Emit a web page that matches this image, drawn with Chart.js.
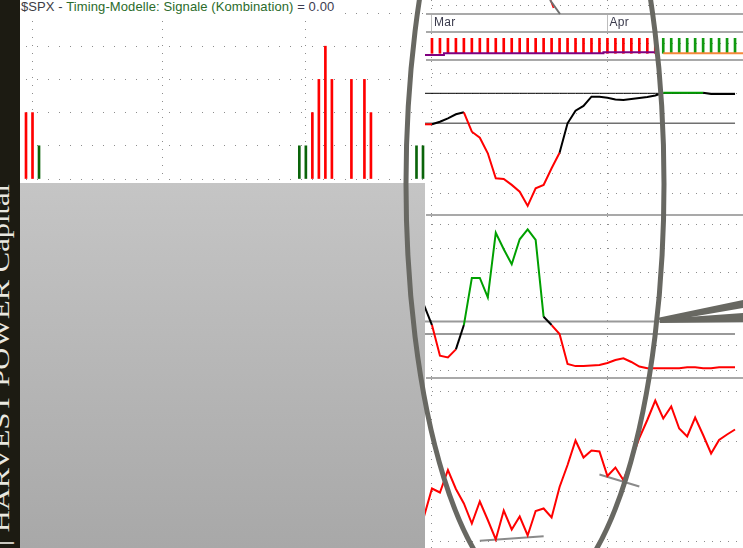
<!DOCTYPE html>
<html><head><meta charset="utf-8">
<script src="https://cdn.jsdelivr.net/npm/chart.js@4.4.1/dist/chart.umd.min.js"></script>
<style>
html,body{margin:0;padding:0;}
body{width:743px;height:548px;position:relative;overflow:hidden;background:#fff;font-family:"Liberation Sans",Arial,sans-serif;}
.abs{position:absolute;}
canvas{display:block;position:absolute;}
.sep{position:absolute;left:426px;width:317px;height:2px;background:#a9a9a9;z-index:1;}
.mlab{position:absolute;font-size:12px;line-height:14px;color:#3a3a4c;white-space:nowrap;z-index:1;letter-spacing:0.3px;}
#title{position:absolute;left:21px;top:-1px;font-size:13px;line-height:15px;letter-spacing:0.1px;background:#fff;padding-right:3px;white-space:nowrap;z-index:3;}
</style></head><body>

<svg class="abs" style="left:0;top:0;z-index:5" width="20" height="548">
  <rect width="20" height="548" fill="#1c1b12"/>
  <text transform="translate(9,546) rotate(-90)" font-family="Liberation Serif, DejaVu Serif, serif" font-size="24" fill="#e9e8e0" textLength="362" lengthAdjust="spacingAndGlyphs">| HARVEST POWER Capital</text>
</svg>

<!-- right side panels -->
<canvas id="cA" width="319" height="13" style="left:424px;top:0px"></canvas>
<div class="sep" style="top:13px"></div>
<canvas id="cDate" width="319" height="16" style="left:424px;top:15px"></canvas>
<div class="sep" style="top:31px"></div>
<canvas id="cTicks" width="319" height="26" style="left:424px;top:33px"></canvas>
<div class="sep" style="top:59px"></div>
<canvas id="cP4" width="319" height="153" style="left:424px;top:61px"></canvas>
<div class="sep" style="top:214px"></div>
<canvas id="cP5" width="319" height="161" style="left:424px;top:216px"></canvas>
<div class="sep" style="top:377px"></div>
<canvas id="cP6" width="319" height="169" style="left:424px;top:379px"></canvas>

<!-- left panel -->
<div class="abs" style="left:20px;top:0;width:405px;height:183px;background:#fff;z-index:2">
  <canvas id="cLeft" width="405" height="183" style="left:0;top:0"></canvas>
</div>
<div id="title"><span style="color:#3c3c44">$SPX - </span><span style="color:#2b6b2b">Timing-Modelle: Signale (Kombination)</span><span style="color:#3c3c50"> = 0.00</span></div>
<div class="abs" style="left:20px;top:183px;width:405px;height:365px;background:linear-gradient(#c5c5c5,#a8a8a8);z-index:2"></div>

<svg class="abs" style="left:0;top:0;z-index:10;pointer-events:none" width="743" height="548">
  <line x1="550.5" y1="0" x2="553.5" y2="8" stroke="#ff0000" stroke-width="1.5"/>
  <line x1="550" y1="0" x2="560" y2="14" stroke="#707070" stroke-width="2"/>
  <ellipse cx="535" cy="184" rx="129" ry="415" fill="none" stroke="#686862" stroke-width="5"/>
  <polygon points="657,318 743,300 743,308 662,322" fill="#686862"/>
  <polygon points="660,319 743,313 743,322 660,323" fill="#686862"/>
</svg>

<script>
// ---------- DATA ----------
const monthNames = ['Jan','Feb','Mar','Apr','May','Jun','Jul','Aug','Sep','Oct','Nov','Dec'];

// Left panel: combined timing signals
const leftDates = ['2009-10-30',
 '2009-11-02','2009-11-03','2009-11-04','2009-11-05','2009-11-06','2009-11-09','2009-11-10','2009-11-11','2009-11-12','2009-11-13',
 '2009-11-16','2009-11-17','2009-11-18','2009-11-19','2009-11-20','2009-11-23','2009-11-24','2009-11-25','2009-11-27','2009-11-30',
 '2009-12-01','2009-12-02','2009-12-03','2009-12-04','2009-12-07','2009-12-08','2009-12-09','2009-12-10','2009-12-11','2009-12-14',
 '2009-12-15','2009-12-16','2009-12-17','2009-12-18','2009-12-21','2009-12-22','2009-12-23','2009-12-24','2009-12-28','2009-12-29',
 '2009-12-30','2009-12-31',
 '2010-01-04','2010-01-05','2010-01-06','2010-01-07','2010-01-08','2010-01-11','2010-01-12','2010-01-13','2010-01-14','2010-01-15',
 '2010-01-19','2010-01-20','2010-01-21','2010-01-22','2010-01-25','2010-01-26','2010-01-27','2010-01-28','2010-01-29'];
const leftSell = [2,2,0,0,0,0,0,0,0,0, 0,0,0,0,0,0,0,0,0,0, 0,0,0,0,0,0,0,0,0,0, 0,0,0,0,0,0,0,0,0,0,
                  0,0,0,0,2,3,4,3,0,0, 3,0,3,2,0,0,0,0,0,0, 0,0];
const leftBuy  = [0,0,1,0,0,0,0,0,0,0, 0,0,0,0,0,0,0,0,0,0, 0,0,0,0,0,0,0,0,0,0, 0,0,0,0,0,0,0,0,0,0,
                  0,0,1,1,0,0,0,0,0,0, 0,0,0,0,0,0,0,0,0,0, 1,1];

// Right panels
const rightDates = ['2009-02-27',
 '2009-03-02','2009-03-03','2009-03-04','2009-03-05','2009-03-06','2009-03-09','2009-03-10','2009-03-11','2009-03-12','2009-03-13',
 '2009-03-16','2009-03-17','2009-03-18','2009-03-19','2009-03-20','2009-03-23','2009-03-24','2009-03-25','2009-03-26','2009-03-27',
 '2009-03-30','2009-03-31',
 '2009-04-01','2009-04-02','2009-04-03','2009-04-06','2009-04-07','2009-04-08','2009-04-09',
 '2009-04-13','2009-04-14','2009-04-15','2009-04-16','2009-04-17','2009-04-20','2009-04-21','2009-04-22','2009-04-23','2009-04-24',
 '2009-04-27'];

const tickSell = [null,3,3,3,3,3,3,3,3,3,3, 3,3,3,3,3,3,3,3,3,3, 3,3,3,3,3,3,3,3,3,null, null,null,null,null,null,null,null,null,null, null];
const tickBuy  = [null,null,null,null,null,null,null,null,null,null,null, null,null,null,null,null,null,null,null,null,null,
                  null,null,null,null,null,null,null,null,null,3, 3,3,3,3,3,3,3,3,3, null];
const stopPurple = [-0.34,-0.34,-0.34,0,0,0,0,0,0,0,0, 0,0,0,0,0,0,0,0,0,0, 0,0,0.2,0.2,0.2,0.2,0.2,0.2,0.2,null,
                    null,null,null,null,null,null,null,null,null,null];
const stopOrange = [null,null,null,null,null,null,null,null,null,null,null, null,null,null,null,null,null,null,null,null,null,
                    null,null,null,null,null,null,null,null,null,0, 0,0,0,0,0,0,0,0,0,0];

const p4Values = [44.5,44.5,45.8,47.5,49.5,50.5,40.8,37.8,30.0,17.5,17.2, 14.2,10.8,3.7,12.5,14.2,22.5,30.3,45.0,51.3,53.7,
                  58.3,58.3,57.8,56.9,56.7,57.2,57.7,58.2,58.9,60.3, 60.3,60.3,60.3,60.3,60.3,59.7,59.7,59.7,59.7,null];
const p4State  = 'rkkkkrrrrrrrrrrrrkkkkkkkkkkkkkgggggkkkkkk'.split('');
const p4Upper = 60, p4Lower = 45;

const p5Values = [26.7,18.5,5.9,5.2,8.5,18.5,37.9,37.9,29.9,56.5,49.7, 43.5,53.8,57.9,53.5,21.9,18.5,14.8,2.5,1.6,1.6,
                  1.9,2.1,2.9,4.1,4.8,3.3,1.4,0.7,0.7,0.7, 0.7,0.7,1.1,1.1,0.7,0.7,1.1,1.1,1.1,null];
const p5State  = 'krrrkggggggggggkrrrrrrrrrrrrrrrrrrrrrrrrr'.split('');
const p5Upper = 20, p5Lower = 14.8;

const p6Values = [5.0,10.6,9.8,14.3,10.5,7.6,3.6,8.0,4.3,0.4,6.2, 2.4,5.0,1.2,6.1,6.6,4.8,10.9,15.3,20.2,16.8,
                  18.2,18.0,13.1,14.8,12.3,16.3,20.7,24.3,28.2,24.6, 27.0,22.6,21.0,24.8,21.3,17.6,20.3,21.4,22.4,null];
const p6Trend1 = [null,null,null,null,null,null,null,0.16,null,null,null, null,null,null,null,1.04,null,null,null,null,null,
                  null,null,null,null,null,null,null,null,null,null, null,null,null,null,null,null,null,null,null,null];
const p6Trend2 = [null,null,null,null,null,null,null,null,null,null,null, null,null,null,null,null,null,null,null,null,null,
                  null,13.4,null,null,null,null,11.0,null,null,null, null,null,null,null,null,null,null,null,null,null];

// ---------- CHARTS ----------
Chart.defaults.font.family = '"Liberation Sans", Arial, sans-serif';
const stateColor = {r:'#ff0000', k:'#000000', g:'#00a000'};
const DOT = '#8c8c8c', CLEAR = 'rgba(0,0,0,0)';

function isMonthStart(dates, i){ return i > 0 && dates[i].slice(0,7) !== dates[i-1].slice(0,7); }
function gridTicks(vals){ return function(scale){ scale.ticks = vals.map(v => ({value: v})); }; }
const nz = arr => arr.map(v => v === 0 ? null : v);   // no signal -> no bar

const common = {
  responsive:false, animation:false, devicePixelRatio:1, events:[],
  layout:{padding:0},
  plugins:{legend:{display:false}, tooltip:{enabled:false}},
  elements:{point:{radius:0}, line:{tension:0}}
};

function rightScales(yMin, yMax, yGrid, xColor, xDash){
  return {
    x:{type:'category', labels:rightDates, offset:false,
       ticks:{display:false}, border:{display:false, dash:xDash},
       grid:{drawTicks:false, offset:false, lineWidth:1,
             color: c => isMonthStart(rightDates, c.index) ? xColor : CLEAR}},
    y:{min:yMin, max:yMax, ticks:{display:false}, border:{display:false, dash:[1,7]},
       grid:{drawTicks:false, color:DOT, lineWidth:1}, afterBuildTicks: gridTicks(yGrid)}
  };
}
function levelLine(val, lastIdx, color, width){
  return {type:'line', data: rightDates.map((d,i) => i <= lastIdx ? val : null),
          borderColor:color, borderWidth:width, order:2};
}

// left signal chart
new Chart(document.getElementById('cLeft'), {
  type:'bar',
  data:{labels:leftDates, datasets:[
    {data:nz(leftSell), backgroundColor:'#ff0000', barThickness:2, grouped:false, clip:false},
    {data:nz(leftBuy),  backgroundColor:'#0a640a', barThickness:2, grouped:false, clip:false}
  ]},
  options:{...common, layout:{padding:{left:6, right:2, top:13, bottom:4}},
    scales:{
      x:{offset:false, ticks:{display:false}, border:{display:false, dash:[1,7]},
         grid:{drawTicks:false, offset:false, color: c => isMonthStart(leftDates, c.index) ? DOT : CLEAR}},
      y:{min:0, max:5, ticks:{display:false, stepSize:1}, border:{display:false, dash:[1,10]},
         grid:{drawTicks:false, color:DOT}}
    }}
});

// top strip (grid only)
new Chart(document.getElementById('cA'), {
  type:'line', data:{labels:rightDates, datasets:[]},
  options:{...common, scales: rightScales(0, 13, [8], DOT, [1,7])}
});

// date strip
const dateChart = new Chart(document.getElementById('cDate'), {
  type:'line', data:{labels:rightDates, datasets:[]},
  options:{...common, scales: rightScales(0, 1, [], '#bdbdbd', [])}
});
rightDates.forEach((d, i) => {
  if (!isMonthStart(rightDates, i)) return;
  const s = document.createElement('div');
  s.className = 'mlab';
  s.textContent = monthNames[parseInt(d.slice(5,7), 10) - 1];
  s.style.left = (424 + dateChart.scales.x.getPixelForValue(i) + 2) + 'px';
  s.style.top = '15px';
  document.body.appendChild(s);
});

// signal ticks strip
new Chart(document.getElementById('cTicks'), {
  type:'bar',
  data:{labels:rightDates, datasets:[
    {type:'line', data:stopPurple, borderColor:'#800080', borderWidth:2, stepped:'middle', order:0},
    {type:'line', data:stopOrange, borderColor:'#f5893a', borderWidth:2, stepped:'middle', order:0},
    {type:'bar', data:tickSell, backgroundColor:'#ff0000', barThickness:2, grouped:false, order:1},
    {type:'bar', data:tickBuy, backgroundColor:'#109a10', barThickness:2, grouped:false, order:1}
  ]},
  options:{...common, scales: rightScales(-1.14, 4.06, [2], DOT, [1,7])}
});

// panel 4
new Chart(document.getElementById('cP4'), {
  type:'line',
  data:{labels:rightDates, datasets:[
    {data:p4Values, borderWidth:2, borderColor:'#000',
     segment:{borderColor: c => stateColor[p4State[c.p0DataIndex]]}, order:0},
    levelLine(p4Upper, 39, '#000000', 1),
    levelLine(p4Lower, 39, '#707070', 1.5)
  ]},
  options:{...common, scales: rightScales(-0.35, 76.15, [10,20,30,40,50,60,70], DOT, [1,7])}
});

// panel 5
new Chart(document.getElementById('cP5'), {
  type:'line',
  data:{labels:rightDates, datasets:[
    {data:p5Values, borderWidth:2, borderColor:'#000',
     segment:{borderColor: c => stateColor[p5State[c.p0DataIndex]]}, order:0},
    levelLine(p5Upper, 40, '#9a9a9a', 2),
    levelLine(p5Lower, 39, '#777777', 1.5)
  ]},
  options:{...common, scales: rightScales(-2.88, 63.37, [0,10,30,40,50,60], DOT, [1,7])}
});

// panel 6
new Chart(document.getElementById('cP6'), {
  type:'line',
  data:{labels:rightDates, datasets:[
    {data:p6Values, borderWidth:2, borderColor:'#ff0000', order:0},
    {data:p6Trend1, borderWidth:2, borderColor:'#8a8a8a', spanGaps:true, order:1},
    {data:p6Trend2, borderWidth:2, borderColor:'#8a8a8a', spanGaps:true, order:1}
  ]},
  options:{...common, scales: rightScales(-1.3, 32.5, [0,10,20,30], DOT, [1,7])}
});
</script>
</body></html>
